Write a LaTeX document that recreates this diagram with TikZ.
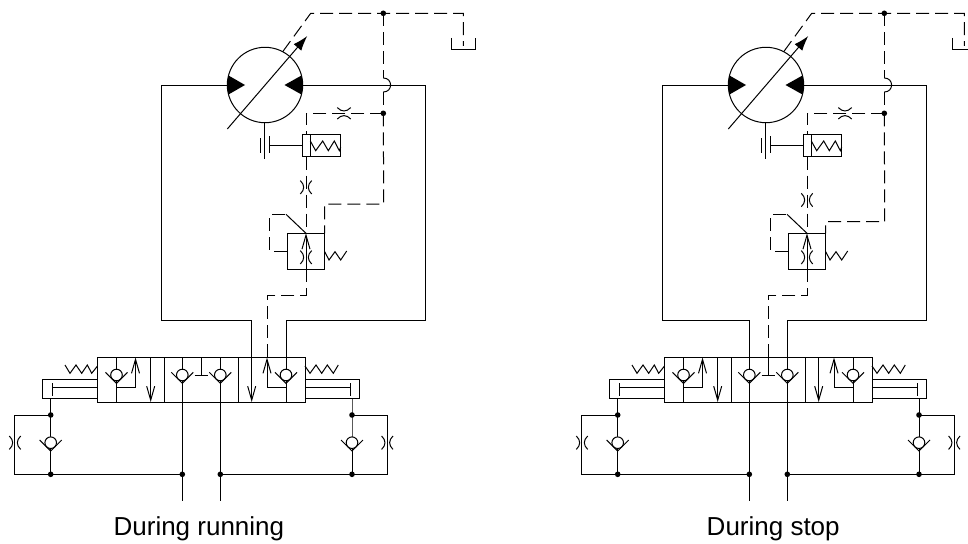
\documentclass[tikz,border=0pt]{standalone}
\usepackage{fontspec}
\setmainfont{Liberation Sans}
\usetikzlibrary{arrows.meta}

\tikzset{
  pilot/.style={dash pattern=on 13pt off 6pt},
  barb/.style={-{Straight Barb[length=14pt,width=8pt]}},
  checkvalve/.pic={
    \filldraw[fill=white] (0,0) circle (5.8pt);
    \draw (-11,-2.7) -- (0,8.3) -- (11,-2.7);
  },
  orifice/.pic={
    \draw (-5.7,-6.7) .. controls (-1.2,-2.5) and (-1.2,2.5) .. (-5.7,6.7);
    \draw (5.7,-6.7) .. controls (1.2,-2.5) and (1.2,2.5) .. (5.7,6.7);
  }
}

% Pump, servo piston and pilot valve
% #1 = level of the pilot line, #2 = level of the orifice, #3 = x of the left riser
\newcommand{\pumpcircuit}[3]{
  \coordinate (pump) at (265,85);
  \coordinate (topdot) at (383.3,13.3);
  \coordinate (middot) at (383.3,113.3);
  \coordinate (valvetop) at (306,233.3);
  \coordinate (valvebot) at (306,269.3);

  % Draw the main lines
  \draw (pump) ++(-37.7,0) -- (161,85) -- (161,320) -- (#3,320) -- (#3,357.5);
  \draw (pump) ++(37.7,0) -- (425,85) -- (425,320) -- (286,320) -- (286,357.5);

  % Draw the pump
  \fill (228.5,75.5) .. controls (227,81) and (227,89) .. (228.5,94.5) -- (245,85) -- cycle;
  \fill (301.5,75.5) .. controls (303,81) and (303,89) .. (301.5,94.5) -- (284.5,85) -- cycle;
  \draw (pump) circle (37.7pt);
  \draw[-{Latex[length=15pt,width=10pt]}] (227.3,129) -- (307.3,36);
  \draw[pilot] (282.7,51.7) -- (310.7,13.3) -- (topdot) -- (463.3,13.3) -- (463.3,46);
  \draw (451.7,38) -- (451.7,49.3) -- (475.7,49.3) -- (475.7,38);

  % Draw the drain line with its hop
  \draw[pilot] (topdot) -- (383.3,78);
  \draw (383.3,78) .. controls (393,78) and (393,92) .. (383.3,92);
  \draw[pilot] (383.3,92) -- (middot);
  \draw[pilot] (middot) -- (383.7,#1) -- (324.7,#1) -- (324.7,233.3);
  \fill (topdot) circle (2.8pt);
  \fill (middot) circle (2.8pt);

  % Draw the servo piston
  \draw[pilot] (middot) -- (306,113.3) -- (306,134.3);
  \pic[rotate=90] at (344,113.3) {orifice};
  \draw (302.3,134.3) rectangle (310.3,156.7);
  \draw (310.3,134.3) rectangle (340.7,156);
  \draw (310.3,141) -- (315.7,150.7) -- (322.7,141) -- (328.3,150.7) -- (334.3,141) -- (339.3,150.7) -- (340.7,147);
  \draw (269.3,145.3) -- (302.3,145.3);
  \draw (269.3,136) -- (269.3,152.7);
  \draw (264.7,122.7) -- (264.7,158.7);
  \draw (260,138.3) -- (260,152.7);

  % Draw the pilot valve
  \draw[pilot] (306,156.7) -- (valvetop);
  \pic at (306,#2) {orifice};
  \draw (287.3,233.3) rectangle (324.7,269.3);
  \draw[barb] (valvebot) -- (valvetop);
  \pic at (306,257.3) {orifice};
  \draw[pilot] (287.3,251.3) -- (269.7,251.3) -- (269.7,214.3) -- (286,214.3);
  \draw (286,214.3) -- (valvetop);
  \draw (324.7,251.7) -- (329,260) -- (335,251.7) -- (340.7,260) -- (346.7,251);
  \draw[pilot] (valvebot) -- (306,295.7) -- (267,295.7) -- (267,357.5);
}

% Spool valve, cylinders and check valves
\newcommand{\spoolcircuit}{
  \coordinate (cylL) at (50.7,415);
  \coordinate (retL) at (50.7,474.3);
  \coordinate (cylR) at (352,415);
  \coordinate (retR) at (352,474.3);
  \coordinate (outL) at (182.3,474.3);
  \coordinate (outR) at (220.3,474.3);

  % Draw the valve body
  \draw (97.5,357.5) rectangle (305,402);
  \draw (164.5,357.5) -- (164.5,402);
  \draw (238.5,357.5) -- (238.5,402);

  % Draw the left cell
  \draw (116.5,357.5) -- (116.5,402);
  \pic at (116.5,375) {checkvalve};
  \draw[barb] (116.5,387.7) -- (135.5,387.7) -- (135.5,357.5);
  \draw[barb] (150.7,357.5) -- (150.7,402);

  % Draw the middle cell
  \draw (182.3,357.5) -- (outL) -- (182.3,501.3);
  \draw (220.3,357.5) -- (outR) -- (220.3,501.3);
  \pic at (182.3,375) {checkvalve};
  \pic at (220.3,375) {checkvalve};
  \draw (201,357.5) -- (201,375.7);
  \draw (194.5,375.7) -- (208,375.7);

  % Draw the right cell
  \draw (286,357.5) -- (286,402);
  \pic at (286,375) {checkvalve};
  \draw[barb] (286,387.7) -- (267,387.7) -- (267,357.5);
  \draw[barb] (251.7,357.5) -- (251.7,402);

  % Draw the springs
  \draw (65,365) -- (70,373.3) -- (76,365) -- (81.7,373.3) -- (87.3,365) -- (91.7,373.3) -- (97.5,366);
  \draw (305,366) -- (310,373.3) -- (316,365) -- (321.7,373.3) -- (327.3,365) -- (333.3,373.3) -- (338.3,365);

  % Draw the cylinders
  \draw (97.5,379.3) -- (42.3,379.3) -- (42.3,398.3) -- (97.5,398.3);
  \draw (97.5,387.7) -- (52.7,387.7);
  \draw (52.7,383) -- (52.7,396);
  \draw (305,379.3) -- (359.7,379.3) -- (359.7,398.3) -- (305,398.3);
  \draw (305,387.7) -- (350.7,387.7);
  \draw (350.7,383) -- (350.7,396);

  % Draw the return lines
  \draw (50.7,398.3) -- (cylL) -- (retL);
  \draw (352,398.3) -- (cylR) -- (retR);
  \draw (cylL) -- (14.7,415) -- (14.7,474.3) -- (retL) -- (outL);
  \draw (cylR) -- (387.3,415) -- (387.3,474.3) -- (retR) -- (outR);
  \pic at (50.7,442.7) {checkvalve};
  \pic at (352,442.7) {checkvalve};
  \pic at (15,442.7) {orifice};
  \pic at (387.3,442.7) {orifice};
  \fill (cylL) circle (2.8pt);
  \fill (retL) circle (2.8pt);
  \fill (cylR) circle (2.8pt);
  \fill (retR) circle (2.8pt);
  \fill (outL) circle (2.8pt);
  \fill (outR) circle (2.8pt);
}

\begin{document}
\begin{tikzpicture}[x=1pt,y=-1pt,line width=1pt]

\clip (0,0) rectangle (968,543);

% During running
\pumpcircuit{204}{187.3}{251.7}
\spoolcircuit
\node[font=\fontsize{26}{30}\selectfont,anchor=base] (runlabel) at (198.9,535) {During running};

% During stop
\begin{scope}[xshift=501pt]
\pumpcircuit{221.7}{200}{248.7}
\end{scope}
\begin{scope}[xshift=567pt]
\spoolcircuit
\end{scope}
\node[font=\fontsize{26}{30}\selectfont,anchor=base] (stoplabel) at (773.2,535) {During stop};

\end{tikzpicture}
\end{document}
